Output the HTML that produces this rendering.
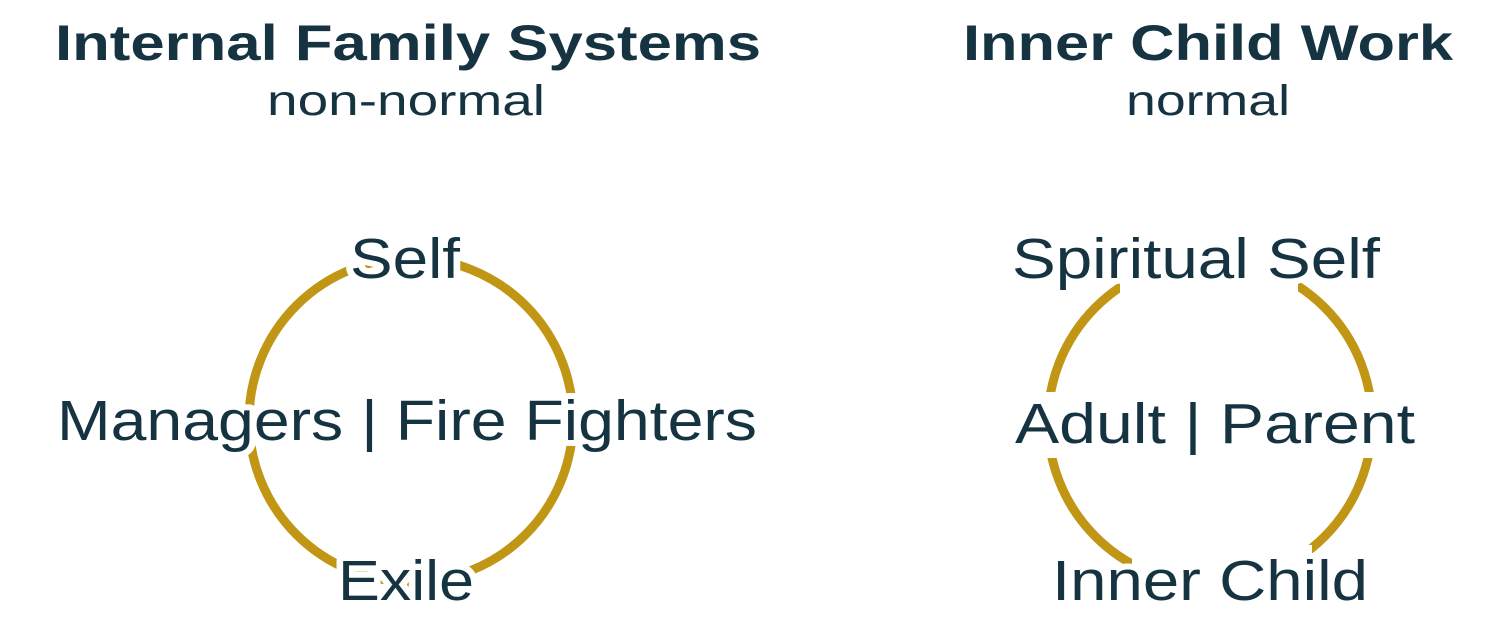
<!DOCTYPE html>
<html><head><meta charset="utf-8"><style>
html,body{margin:0;padding:0;background:#fff;width:1500px;height:641px;overflow:hidden}
svg text{font-family:"Liberation Sans",sans-serif;fill:#163342}
.lab{font-size:57px;stroke:#fff;stroke-width:12px;paint-order:stroke;stroke-linejoin:round}
</style></head><body>
<svg width="1500" height="641" viewBox="0 0 1500 641">
<text x="408" y="60" text-anchor="middle" font-size="50" font-weight="bold" textLength="706" lengthAdjust="spacingAndGlyphs">Internal Family Systems</text>
<text x="406" y="115" text-anchor="middle" font-size="43" textLength="278" lengthAdjust="spacingAndGlyphs">non-normal</text>
<text x="1208" y="60" text-anchor="middle" font-size="50" font-weight="bold" textLength="490" lengthAdjust="spacingAndGlyphs">Inner Child Work</text>
<text x="1208" y="115" text-anchor="middle" font-size="43" textLength="164" lengthAdjust="spacingAndGlyphs">normal</text>

<circle cx="411" cy="420" r="162" fill="none" stroke="#C09614" stroke-width="9"/>
<circle cx="1210" cy="422" r="162" fill="none" stroke="#C09614" stroke-width="9"/>
<rect x="1120" y="250" width="178" height="50" fill="#fff"/>
<rect x="1132" y="545" width="180" height="50" fill="#fff"/>
<rect x="1036" y="392" width="24" height="66" fill="#fff"/>
<rect x="1362" y="392" width="24" height="66" fill="#fff"/>

<text class="lab" x="405" y="278" text-anchor="middle" textLength="110" lengthAdjust="spacingAndGlyphs">Self</text>
<text class="lab" x="407" y="440" text-anchor="middle" textLength="700" lengthAdjust="spacingAndGlyphs">Managers | Fire Fighters</text>
<text class="lab" x="406" y="600" text-anchor="middle" textLength="136" lengthAdjust="spacingAndGlyphs">Exile</text>
<text class="lab" x="1196" y="278" text-anchor="middle" textLength="368" lengthAdjust="spacingAndGlyphs">Spiritual Self</text>
<text class="lab" x="1215" y="443" text-anchor="middle" textLength="400" lengthAdjust="spacingAndGlyphs">Adult | Parent</text>
<text class="lab" x="1210" y="600" text-anchor="middle" textLength="316" lengthAdjust="spacingAndGlyphs">Inner Child</text>
</svg>
</body></html>
